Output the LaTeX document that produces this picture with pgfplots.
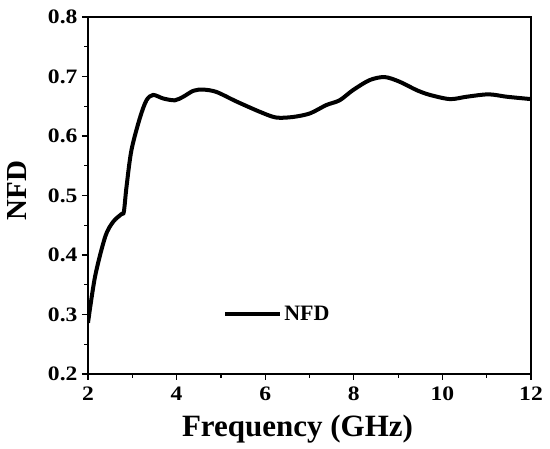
\documentclass[border=0pt]{standalone}
\usepackage{pgfplots}
\pgfplotsset{compat=1.18}
\usetikzlibrary{calc}
\usepackage{fontspec}
\setmainfont{Liberation Serif}
\newfontfamily\tickfont[FakeStretch=1.15]{Liberation Serif}
\begin{document}
\begin{tikzpicture}
\begin{axis}[
  scale only axis,
  width=443pt, height=357pt,
  xmin=2, xmax=12, ymin=0.2, ymax=0.8,
  xtick={2,4,...,12}, ytick={0.2,0.3,...,0.8},
  minor x tick num=1, minor y tick num=1,
  tick align=outside,
  xtick pos=bottom, ytick pos=left,
  major tick length=6pt, minor tick length=4pt,
  axis line style={line width=1.3pt},
  every tick/.style={line width=1.2pt, black},
  /pgf/number format/assume math mode=true,
  /pgf/number format/fixed, /pgf/number format/precision=1,
  /pgf/number format/fixed zerofill,
  ticklabel style={font=\fontsize{20.5}{22}\selectfont\tickfont\bfseries},
  xticklabel style={/pgf/number format/precision=0, /pgf/number format/fixed zerofill=false, yshift=-3pt},
  yticklabel style={xshift=-1pt},
  xlabel={Frequency (GHz)}, ylabel={NFD},
  xlabel style={font=\fontsize{31}{34}\selectfont\bfseries,
    at={(axis description cs:0.473,-0.176)}, anchor=base},
  ylabel style={font=\fontsize{29}{32}\selectfont\bfseries,
    at={(axis description cs:-0.160,0.513)}, anchor=center},
  legend style={draw=none, fill=none, at={(axis cs:5.05,0.3)}, anchor=west,
    font=\fontsize{22}{24}\selectfont\bfseries, inner sep=0pt},
  legend cell align=left,
  legend image code/.code={\draw[line width=4pt,#1] (0pt,0pt) -- (55pt,0pt);},
]
\addplot[black, line width=4pt, smooth, tension=0.5] coordinates {
(2.00,0.286) (2.16,0.364) (2.39,0.431) (2.57,0.456) (2.76,0.469) (2.81,0.473)
(2.87,0.515) (2.98,0.576) (3.17,0.630) (3.32,0.660) (3.47,0.669) (3.70,0.663)
(3.96,0.660) (4.15,0.666) (4.38,0.676) (4.60,0.678) (4.90,0.674) (5.35,0.658)
(5.90,0.640) (6.25,0.631) (6.63,0.632) (7.01,0.638) (7.38,0.652) (7.68,0.660)
(7.98,0.677) (8.36,0.694) (8.70,0.699) (9.04,0.691) (9.42,0.677) (9.72,0.669)
(10.17,0.662) (10.55,0.666) (11.04,0.670) (11.45,0.666) (12.00,0.662)
};
\addlegendentry{NFD}
\coordinate (sw) at (rel axis cs:0,0);
\coordinate (ne) at (rel axis cs:1,1);
\end{axis}
\pgfresetboundingbox
\path[use as bounding box] ($(sw)+(-88pt,-75pt)$) rectangle ($(ne)+(19pt,17pt)$);
\end{tikzpicture}
\end{document}
